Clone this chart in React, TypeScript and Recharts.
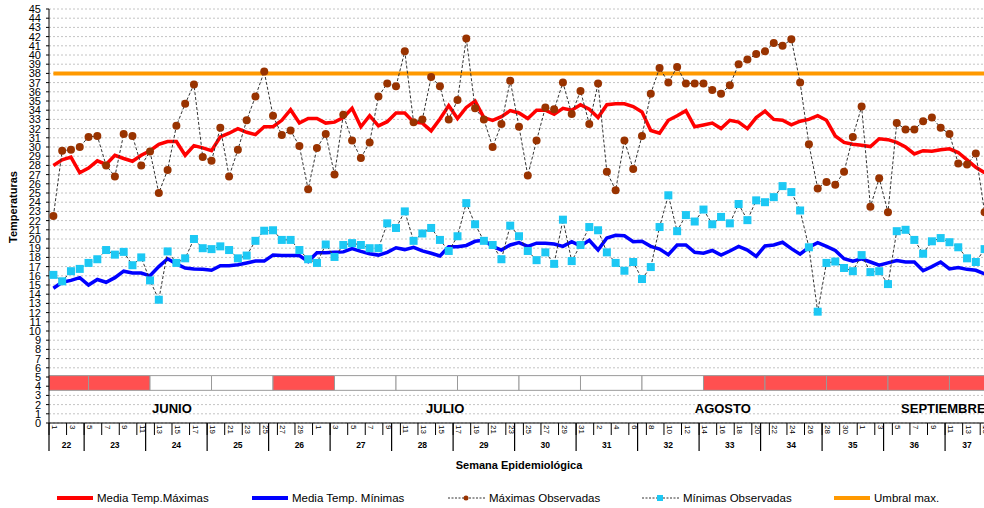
import React from 'react';
import {
  ComposedChart,
  Line,
  XAxis,
  YAxis,
  CartesianGrid,
  ReferenceLine,
  ReferenceArea,
  ReferenceDot,
} from 'recharts';

// ---- Series values (one value per day, 1 June .. 15 September) ----
const maxMean = [
  28.0, 28.6, 28.9, 27.2, 27.7, 28.5, 28.1, 29.1, 28.75, 28.45,
  29.1, 29.6, 30.3, 30.6, 30.6, 29.1, 30.15, 29.9, 29.6, 31.1,
  31.5, 32.0, 31.6, 31.35, 32.2, 32.2, 32.9, 34.05, 32.6, 33.1,
  33.1, 32.6, 32.7, 33.2, 34.2, 32.2, 33.4, 32.3, 32.75, 33.7,
  33.7, 32.7, 32.6, 31.75, 33.05, 34.5, 33.1, 34.3, 35.0, 33.2,
  32.9, 33.3, 33.95, 33.7, 33.1, 34.0, 34.0, 33.55, 34.2, 34.0,
  34.6, 34.1, 33.2, 34.6, 34.7, 34.7, 34.4, 33.8, 31.8, 31.5,
  32.9, 33.4, 33.95, 32.2, 32.4, 32.6, 32.0, 32.9, 32.7, 32.0,
  33.2, 33.9, 33.0, 32.9, 32.4, 32.8, 33.0, 33.4, 32.9, 31.2,
  30.5, 30.3, 30.2, 30.05, 30.9, 30.8, 30.5, 30.0, 29.25, 29.6,
  29.55, 29.7, 29.8, 29.4, 28.6, 27.8, 27.2,
];

const minMean = [
  14.65, 15.3, 15.5, 15.8, 15.0, 15.6, 15.3, 15.8, 16.5, 16.3,
  16.3, 16.0, 17.0, 17.85, 17.3, 16.85, 16.75, 16.7, 16.6, 17.1,
  17.1, 17.2, 17.4, 17.6, 17.6, 18.25, 18.2, 18.2, 18.2, 17.55,
  18.5, 18.5, 18.55, 18.6, 18.95, 18.65, 18.4, 18.25, 18.55, 19.05,
  18.85, 19.1, 18.7, 18.45, 18.15, 19.15, 19.15, 19.3, 19.75, 19.85,
  19.2, 18.8, 19.35, 19.6, 19.2, 19.55, 19.55, 19.45, 19.2, 19.7,
  19.25, 19.85, 18.8, 20.1, 20.4, 20.35, 19.7, 19.75, 19.2, 18.9,
  18.3, 19.35, 19.35, 18.55, 18.45, 18.75, 18.25, 18.7, 19.2, 18.8,
  18.1, 19.25, 19.35, 19.65, 18.95, 18.35, 19.1, 19.6, 19.2, 18.75,
  17.85, 17.6, 17.85, 17.5, 17.15, 17.4, 17.65, 17.5, 17.5, 16.55,
  17.0, 17.5, 16.75, 16.9, 16.7, 16.6, 16.2,
];

const maxObs = [
  22.5, 29.6, 29.7, 30.0, 31.1, 31.2, 28.0, 26.8, 31.4, 31.2,
  28.0, 29.5, 25.0, 27.5, 32.3, 34.7, 36.8, 28.9, 28.5, 32.1,
  26.8, 29.7, 32.9, 35.5, 38.2, 33.4, 31.3, 31.8, 30.1, 25.4,
  29.9, 31.4, 27.0, 33.5, 30.7, 28.8, 30.5, 35.5, 36.9, 36.6,
  40.4, 32.7, 33.0, 37.6, 36.6, 33.0, 35.1, 41.8, 34.2, 33.0,
  30.0, 32.5, 37.2, 32.2, 26.9, 30.7, 34.3, 34.1, 37.0, 33.6,
  36.1, 32.5, 36.9, 27.3, 25.3, 30.7, 27.6, 31.2, 35.8, 38.6,
  37.0, 38.7, 36.9, 36.9, 36.9, 36.2, 35.8, 36.7, 39.0, 39.5,
  40.1, 40.4, 41.3, 41.0, 41.7, 37.0, 30.3, 25.5, 26.2, 25.9,
  27.3, 31.1, 34.4, 23.5, 26.6, 22.9, 32.6, 31.9, 31.9, 32.8,
  33.2, 32.1, 31.4, 28.2, 28.1, 29.3, 22.9,
];

const minObs = [
  16.1, 15.4, 16.5, 16.75, 17.4, 17.8, 18.8, 18.3, 18.6, 17.15,
  18.0, 15.5, 13.4, 18.65, 17.4, 17.9, 20.0, 19.0, 18.9, 19.2,
  18.8, 17.9, 18.2, 19.8, 20.9, 20.95, 19.9, 19.9, 18.8, 17.8,
  17.4, 19.4, 18.05, 19.35, 19.55, 19.35, 19.0, 19.0, 21.7, 21.2,
  23.0, 19.8, 20.6, 21.2, 19.9, 18.7, 20.3, 23.9, 21.6, 19.8,
  19.35, 17.8, 21.45, 20.3, 18.7, 17.7, 18.55, 17.3, 22.1, 17.6,
  19.35, 21.3, 20.95, 18.55, 17.4, 16.55, 17.5, 15.65, 16.95, 21.3,
  24.75, 20.85, 22.6, 21.9, 23.2, 21.6, 22.4, 21.7, 23.8, 22.05,
  24.2, 24.0, 24.55, 25.75, 25.1, 23.1, 19.1, 12.1, 17.4, 17.55,
  16.85, 16.5, 18.25, 16.4, 16.5, 15.1, 20.85, 21.0, 19.9, 18.4,
  19.75, 20.1, 19.65, 19.1, 17.9, 17.5, 18.9,
];

const umbral = 38;

// ---- Tick labels ----
const dayTickLabels = [
  '1', '3', '5', '7', '9', '11', '13', '15', '17', '19', '21', '23', '25', '27', '29',
  '1', '3', '5', '7', '9', '11', '13', '15', '17', '19', '21', '23', '25', '27', '29', '31',
  '2', '4', '6', '8', '10', '12', '14', '16', '18', '20', '22', '24', '26', '28', '30',
  '1', '3', '5', '7', '9', '11', '13', '15',
];

const weekNumbers = [22, 23, 24, 25, 26, 27, 28, 29, 30, 31, 32, 33, 34, 35, 36, 37];
// day index (0 = 1 June) of the first shown day of each epidemiological week
const weekFirstDay = [0, 4, 11, 18, 25, 32, 39, 46, 53, 60, 67, 74, 81, 88, 95, 102];
const weekAlert = [1, 1, 0, 0, 1, 0, 0, 0, 0, 0, 0, 1, 1, 1, 1, 1];

const monthNames = ['JUNIO', 'JULIO', 'AGOSTO', 'SEPTIEMBRE'];
const monthLabelDay = [13.5, 44.6, 76.2, 101.3];

// ---- derived table ----
const data = maxMean.map((v, i) => ({
  i,
  maxMean: v,
  minMean: minMean[i],
  maxObs: maxObs[i],
  minObs: minObs[i],
}));

const lastDay = data.length - 1;
const X_MIN = -0.5;
const X_MAX = lastDay + 0.5;

const dayTicks = dayTickLabels.map((_, k) => 2 * k - 0.5);
const weekBounds = weekFirstDay.map((d) => d - 0.5);
const weekEnds = weekBounds.slice(1).concat([X_MAX]);
const weekCenters = weekBounds.map((b, k) => (b + weekEnds[k]) / 2);

const FONT = "'Liberation Sans', Arial, sans-serif";

const DayTick = (props: any) => {
  const { x, y, payload } = props;
  const k = Math.round((payload.value + 0.5) / 2);
  return (
    <g>
      <line x1={x} y1={y} x2={x} y2={y + 12} stroke="#000" strokeWidth={1} />
      <text
        transform={`translate(${x + 3},${y + 2}) rotate(90)`}
        fontSize={8}
        fontFamily={FONT}
        fill="#000"
        textAnchor="start"
      >
        {dayTickLabels[k]}
      </text>
    </g>
  );
};

const WeekTick = (props: any) => {
  const { x, y, payload } = props;
  const v = payload.value;
  const bi = weekBounds.indexOf(v);
  if (bi >= 0) {
    return <line x1={x} y1={y - 15} x2={x} y2={y + 13} stroke="#000" strokeWidth={1.2} />;
  }
  const ci = weekCenters.indexOf(v);
  return (
    <text x={x} y={y + 10} fontSize={8.5} fontWeight="bold" fontFamily={FONT} textAnchor="middle" fill="#000">
      {ci >= 0 ? weekNumbers[ci] : ''}
    </text>
  );
};

const BrownDot = (p: any) => {
  if (p.cx == null || p.cy == null) return <g key={p.key} />;
  return <circle key={p.key} cx={p.cx} cy={p.cy} r={4} fill="#993300" />;
};

const CyanSquare = (p: any) => {
  if (p.cx == null || p.cy == null) return <g key={p.key} />;
  return <rect key={p.key} x={p.cx - 4} y={p.cy - 4} width={8} height={8} fill="#1CC8F4" />;
};

const yTicks = Array.from({ length: 46 }, (_, k) => k);

const legendItems = [
  { label: 'Media Temp.Máximas', kind: 'line', color: '#FF0000', x: 57 },
  { label: 'Media Temp. Mínimas', kind: 'line', color: '#0000FF', x: 252 },
  { label: 'Máximas Observadas', kind: 'dot', color: '#993300', x: 448 },
  { label: 'Mínimas Observadas', kind: 'square', color: '#1CC8F4', x: 642 },
  { label: 'Umbral max.', kind: 'line', color: '#FF9900', x: 834 },
];

export default function App() {
  return (
    <div
      style={{
        position: 'absolute',
        left: 0,
        top: 0,
        width: 984,
        height: 508,
        overflow: 'hidden',
        background: '#fff',
        fontFamily: FONT,
      }}
    >
      <ComposedChart
        width={1000}
        height={508}
        data={data}
        margin={{ top: 9, right: 11, left: 0, bottom: 39 }}
      >
        <CartesianGrid vertical={false} stroke="#c4c4c4" strokeDasharray="2 2" />
        <XAxis
          xAxisId="d"
          dataKey="i"
          type="number"
          domain={[X_MIN, X_MAX]}
          ticks={dayTicks}
          interval={0}
          height={15}
          tickSize={0}
          tickMargin={0}
          tickLine={false}
          axisLine={{ stroke: '#000', strokeWidth: 1 }}
          tick={<DayTick />}
        />
        <XAxis
          xAxisId="w"
          dataKey="i"
          type="number"
          domain={[X_MIN, X_MAX]}
          ticks={[...weekBounds, ...weekCenters]}
          interval={0}
          height={31}
          tickSize={0}
          tickMargin={0}
          tickLine={false}
          axisLine={false}
          tick={<WeekTick />}
          label={{
            value: 'Semana Epidemiológica',
            position: 'insideBottom',
            offset: 0,
            fontSize: 11,
            fontWeight: 'bold',
            fill: '#000',
          }}
        />
        <YAxis
          domain={[0, 45]}
          ticks={yTicks}
          interval={0}
          width={49}
          tickSize={3}
          tickMargin={5}
          tick={{ fontSize: 11, fill: '#000' }}
          axisLine={{ stroke: '#000', strokeWidth: 1 }}
          tickLine={{ stroke: '#000' }}
          label={{
            content: () => (
              <text
                transform="translate(17,207) rotate(-90)"
                textAnchor="middle"
                fontSize={11}
                fontWeight="bold"
                fontFamily={FONT}
                fill="#000"
              >
                Temperaturas
              </text>
            ),
          }}
        />
        {weekFirstDay.map((d, k) => (
          <ReferenceArea
            key={`band${k}`}
            xAxisId="d"
            x1={k === 0 ? X_MIN : d}
            x2={k === weekFirstDay.length - 1 ? X_MAX : weekFirstDay[k + 1]}
            y1={3.55}
            y2={5.15}
            fill={weekAlert[k] ? '#FF5050' : '#FFFFFF'}
            fillOpacity={1}
            stroke="#9a9a9a"
            strokeWidth={1}
          />
        ))}
        {monthNames.map((m, k) => (
          <ReferenceDot
            key={m}
            xAxisId="d"
            x={monthLabelDay[k]}
            y={1.65}
            r={0}
            shape={(p: any) => (
              <text
                x={p.cx}
                y={p.cy}
                dy="0.36em"
                textAnchor="middle"
                fontSize={13}
                fontWeight="bold"
                fontFamily={FONT}
                fill="#000"
              >
                {m}
              </text>
            )}
          />
        ))}
        <ReferenceLine
          xAxisId="d"
          segment={[
            { x: 0, y: umbral },
            { x: lastDay, y: umbral },
          ]}
          stroke="#FF9900"
          strokeWidth={4}
        />
        <Line
          xAxisId="d"
          dataKey="maxMean"
          stroke="#FF0000"
          strokeWidth={3.5}
          dot={false}
          isAnimationActive={false}
        />
        <Line
          xAxisId="d"
          dataKey="minMean"
          stroke="#0000FF"
          strokeWidth={3.5}
          dot={false}
          isAnimationActive={false}
        />
        <Line
          xAxisId="d"
          dataKey="maxObs"
          stroke="#333"
          strokeWidth={1}
          strokeDasharray="3 2"
          dot={<BrownDot />}
          isAnimationActive={false}
        />
        <Line
          xAxisId="d"
          dataKey="minObs"
          stroke="#333"
          strokeWidth={1}
          strokeDasharray="3 2"
          dot={<CyanSquare />}
          isAnimationActive={false}
        />
      </ComposedChart>
      <svg
        width={984}
        height={22}
        style={{ position: 'absolute', left: 0, top: 487 }}
      >
        {legendItems.map((it) => (
          <g key={it.label}>
            {it.kind === 'line' ? (
              <line x1={it.x} y1={11} x2={it.x + 36} y2={11} stroke={it.color} strokeWidth={4} />
            ) : (
              <line
                x1={it.x}
                y1={11}
                x2={it.x + 38}
                y2={11}
                stroke="#333"
                strokeWidth={1}
                strokeDasharray="2 1.5"
              />
            )}
            {it.kind === 'dot' && <circle cx={it.x + 18} cy={11} r={2.5} fill={it.color} />}
            {it.kind === 'square' && (
              <rect x={it.x + 15} y={8} width={6} height={6} fill={it.color} />
            )}
            <text
              x={it.x + (it.kind === 'line' ? 40 : 41)}
              y={11}
              dy="0.36em"
              fontSize={11.5}
              fontFamily={FONT}
              fill="#000"
            >
              {it.label}
            </text>
          </g>
        ))}
      </svg>
    </div>
  );
}
